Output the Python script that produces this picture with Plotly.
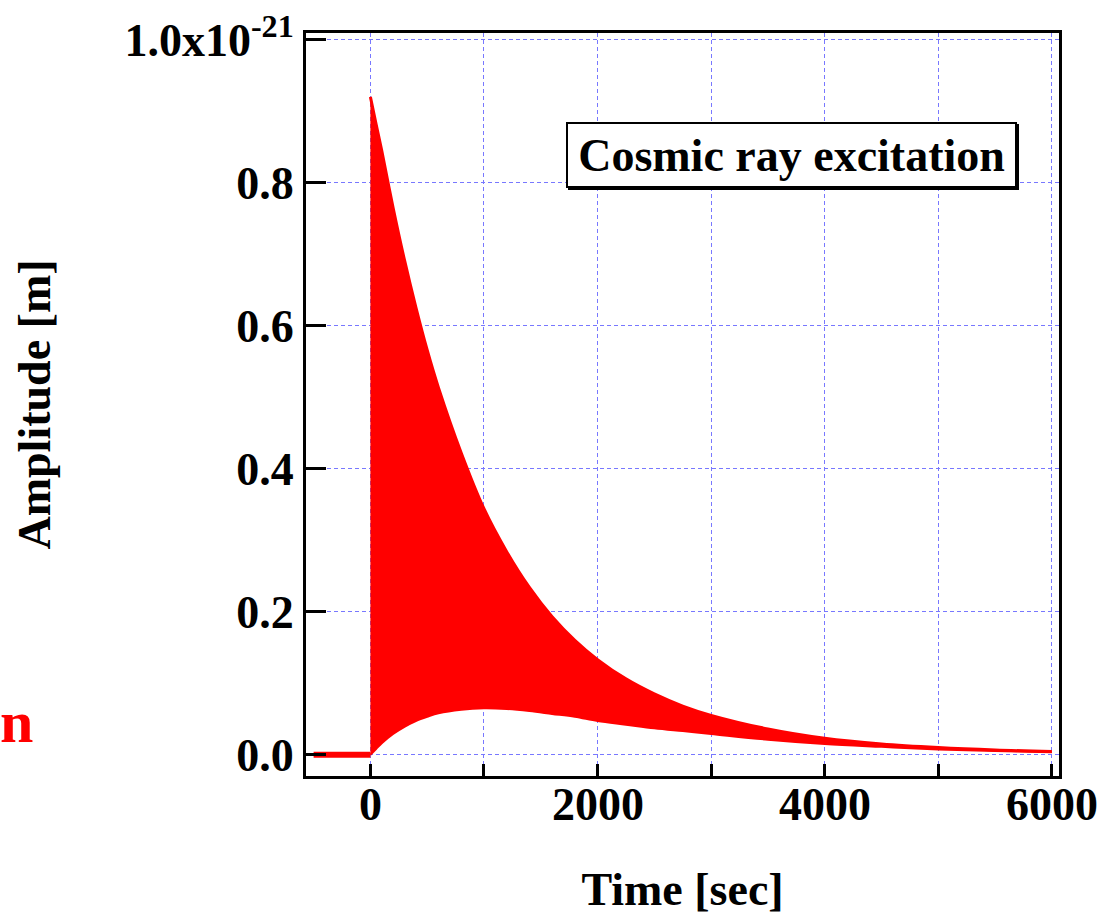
import plotly.graph_objects as go

# Envelope of the cosmic-ray excited oscillation (units of 1e-21 m)
time_s = [0, 50, 100, 200, 300, 400, 500, 600, 800, 1000, 1200, 1400, 1600, 1800,
          2000, 2250, 2500, 2750, 3000, 3500, 4000, 4500, 5000, 5500, 6000]
upper_env = [0.920, 0.882, 0.845, 0.765, 0.692, 0.626, 0.566, 0.513, 0.422, 0.344,
             0.284, 0.234, 0.193, 0.160, 0.133, 0.106, 0.085, 0.068, 0.055, 0.036,
             0.023, 0.015, 0.0100, 0.0066, 0.0044]
lower_env = [0.000, 0.008, 0.016, 0.029, 0.039, 0.047, 0.053, 0.058, 0.063, 0.065,
             0.064, 0.061, 0.057, 0.053, 0.047, 0.042, 0.037, 0.033, 0.029, 0.021,
             0.015, 0.011, 0.0074, 0.0051, 0.0035]
# quiet level before the event
pre_time = [-500, 0]
pre_amp = [0.0, 0.0]

x_tickvals = [0, 1000, 2000, 3000, 4000, 5000, 6000]
x_labelvals = [0, 2000, 4000, 6000]
x_labeltext = ["0", "2000", "4000", "6000"]
y_tickvals = [0.0, 0.2, 0.4, 0.6, 0.8, 1.0]
y_ticktext = ["0.0", "0.2", "0.4", "0.6", "0.8", "1.0x10<sup>-21</sup>"]

RED = "#ff0000"
FONT = "Liberation Serif"
GRID = "#7878ff"

fig = go.Figure()
fig.add_trace(go.Scatter(x=pre_time, y=pre_amp, mode="lines",
                         line=dict(color=RED, width=6), showlegend=False))
fig.add_trace(go.Scatter(x=time_s, y=lower_env, mode="lines",
                         line=dict(color=RED, width=2, shape="spline", smoothing=1),
                         showlegend=False))
fig.add_trace(go.Scatter(x=time_s, y=upper_env, mode="lines", fill="tonexty",
                         fillcolor=RED,
                         line=dict(color=RED, width=3, shape="spline", smoothing=1),
                         showlegend=False))

axis_common = dict(
    showline=True, linecolor="black", linewidth=3, mirror=True,
    ticks="inside", tickcolor="black", tickwidth=3,
    showgrid=True, gridcolor=GRID, gridwidth=1, griddash="4px,3px",
    zeroline=False,
    tickfont=dict(family=FONT, size=46, color="black"),
)

fig.update_xaxes(
    range=[-567, 6063], tickmode="array",
    tickvals=x_tickvals, showticklabels=False,
    ticklen=12,
    title=dict(text="<b>Time [sec]</b>", font=dict(family=FONT, size=46, color="black"),
               standoff=95),
    **axis_common,
)
fig.update_yaxes(
    range=[-0.0298, 1.0094], tickmode="array",
    tickvals=y_tickvals, ticktext=["<b>" + t + "</b>" for t in y_ticktext],
    ticklen=20,
    title=dict(text="<b>Amplitude [m]</b>", font=dict(family=FONT, size=46, color="black"),
               standoff=60),
    **axis_common,
)

for xv, txt in zip(x_labelvals, x_labeltext):
    fig.add_annotation(
        xref="x", yref="paper", x=xv, y=-(804 - 776) / 743,
        xanchor="center", yanchor="middle", showarrow=False,
        text="<b>" + txt + "</b>",
        font=dict(family=FONT, size=46, color="black"),
    )

# slight drop shadow of the label box
fig.add_shape(
    type="rect", xref="paper", yref="paper",
    x0=(568 - 306) / 753, x1=(1019 - 306) / 753,
    y0=(776 - 190) / 743, y1=(776 - 124) / 743,
    line=dict(width=0), fillcolor="black", layer="above",
)
fig.add_annotation(
    xref="paper", yref="paper", x=(791.5 - 306) / 753, y=(776 - 155) / 743,
    xanchor="center", yanchor="middle",
    text="<b>Cosmic ray excitation</b>", showarrow=False,
    font=dict(family=FONT, size=46, color="black"),
    width=445, height=60,
    bordercolor="black", borderwidth=2, borderpad=1, bgcolor="white",
)
fig.add_annotation(
    xref="paper", yref="paper", x=(-2 - 306) / 753, y=(776 - 722) / 743,
    xanchor="left", yanchor="middle",
    text="<b>n</b>", showarrow=False,
    font=dict(family=FONT, size=60, color=RED),
)

fig.update_layout(
    width=1109, height=918,
    margin=dict(l=306, r=50, t=33, b=142, autoexpand=False),
    paper_bgcolor="white", plot_bgcolor="white",
)
fig.write_html("out.html")
